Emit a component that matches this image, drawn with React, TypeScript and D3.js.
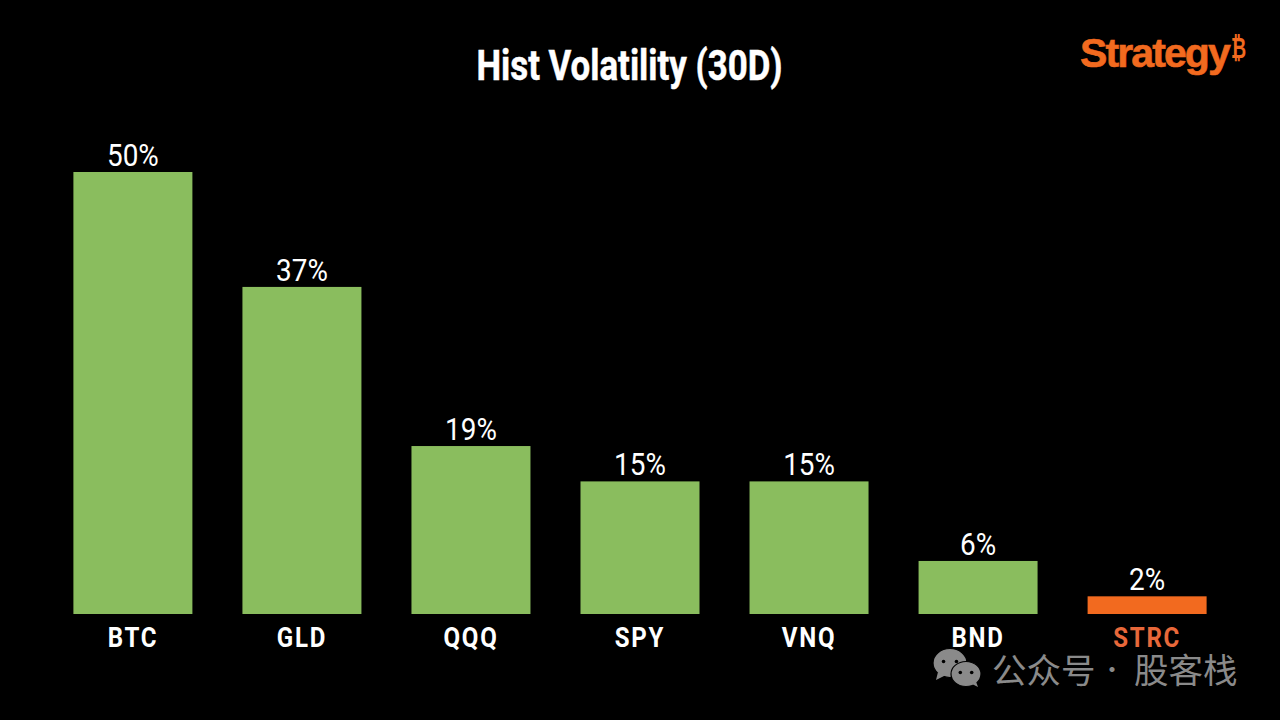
import * as d3 from 'd3';

// ── Data ──

const TICKERS = ['BTC', 'GLD', 'QQQ', 'SPY', 'VNQ', 'BND', 'STRC'];
const VOLATILITY = [50, 37, 19, 15, 15, 6, 2];
const HIGHLIGHT = 'STRC';

const W = 1280;
const H = 720;
const GREEN = '#8abd5e';
const ORANGE = '#f26a1f';
const GREY = '#8a8a8a';
const FONT = 'Roboto, sans-serif';
const CJK = '"Noto Sans CJK SC", sans-serif';

const x = d3.scaleBand<string>().domain(TICKERS).range([73.4, 1206.6]).paddingInner(0.296).paddingOuter(0);
const y = d3.scaleLinear().domain([0, 50]).range([614, 172]);

// Small WeChat-style mark for the watermark
function Bubble({ cx, cy, rx, ry, tail }: { cx: number; cy: number; rx: number; ry: number; tail: string }) {
  return (
    <g>
      <ellipse cx={cx} cy={cy} rx={rx} ry={ry} fill={GREY} stroke="#000" strokeWidth={1.2} />
      <path d={tail} fill={GREY} />
      <circle cx={cx - rx * 0.38} cy={cy - 1.5} r={1.8} fill="#000" />
      <circle cx={cx + rx * 0.38} cy={cy - 1.5} r={1.8} fill="#000" />
    </g>
  );
}

export default function App() {
  return (
    <svg
      width={W}
      height={H}
      viewBox={`0 0 ${W} ${H}`}
      style={{ position: 'absolute', left: 0, top: 0, display: 'block', background: '#000' }}
    >
      <rect width={W} height={H} fill="#000" />

      <text
        transform="translate(629.5,80) scale(0.83,1)"
        textAnchor="middle"
        fill="#fff"
        stroke="#fff"
        strokeWidth={0.5}
        fontFamily={FONT}
        fontWeight={700}
        fontSize={42}
      >
        Hist Volatility (30D)
      </text>

      {/* Logo */}
      <text
        x={1080}
        y={67}
        fill={ORANGE}
        fontFamily='"Liberation Sans", Roboto, sans-serif'
        fontWeight={700}
        fontSize={41}
        letterSpacing={-1.9}
        stroke={ORANGE}
        strokeWidth={0.6}
      >
        Strategy
      </text>
      <text
        transform="translate(1231,58) scale(0.62,1)"
        fill={ORANGE}
        fontFamily="'DejaVu Sans', sans-serif"
        fontWeight={700}
        fontSize={30}
      >
        ₿
      </text>

      {/* Bars */}
      {TICKERS.map((t, i) => {
        const bx = x(t)!;
        const by = y(VOLATILITY[i]);
        const cx = bx + x.bandwidth() / 2;
        return (
          <g key={t}>
            <rect
              x={bx}
              y={by}
              width={x.bandwidth()}
              height={y(0) - by}
              fill={t === HIGHLIGHT ? ORANGE : GREEN}
            />
            <text
              transform={`translate(${cx},${by - 6}) scale(0.9,1)`}
              textAnchor="middle"
              fill="#fff"
              fontFamily={FONT}
              fontWeight={400}
              fontSize={31}
            >
              {VOLATILITY[i]}%
            </text>
            <text
              transform={`translate(${cx},647) scale(0.86,1)`}
              textAnchor="middle"
              fill={t === HIGHLIGHT ? '#e8683a' : '#fff'}
              fontFamily={FONT}
              fontWeight={700}
              fontSize={28}
              letterSpacing={2}
            >
              {t}
            </text>
          </g>
        );
      })}

      {/* Watermark */}
      <Bubble cx={950} cy={663} rx={17} ry={14.5} tail="M938,672 L936,680 L946,675 Z" />
      <Bubble cx={966} cy={674} rx={15} ry={12.5} tail="M972,684 L978,687 L975,679 Z" />
      <text x={992} y={683} fill={GREY} fontFamily={CJK} fontSize={34.5}>
        公众号
      </text>
      <text x={1112} y={678} textAnchor="middle" fill={GREY} fontFamily={CJK} fontSize={24}>
        ·
      </text>
      <text x={1134} y={683} fill={GREY} fontFamily={CJK} fontSize={34.5}>
        股客栈
      </text>
    </svg>
  );
}
